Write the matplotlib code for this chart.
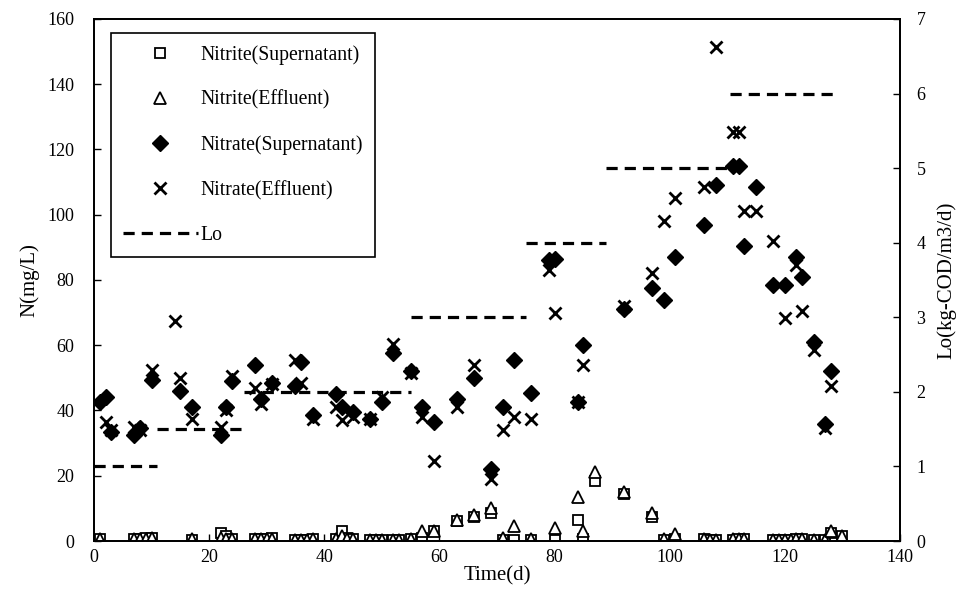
import numpy as np
import matplotlib
matplotlib.use("Agg")
import matplotlib.pyplot as plt

plt.rcParams['font.family'] = ['Liberation Serif', 'DejaVu Serif']

# Nitrate (Supernatant) - filled diamonds
ns_day = [1, 2, 3, 7, 8, 10, 15, 17, 22, 23, 24, 28, 29, 31, 35, 36, 38, 42, 43, 45,
          48, 50, 52, 55, 57, 59, 63, 66, 69, 71, 73, 76, 79, 80, 84, 85, 92, 97, 99,
          101, 106, 108, 111, 112, 113, 115, 118, 120, 122, 123, 125, 127, 128]
ns_val = [42.5, 44, 33.5, 32.5, 34.5, 49.5, 46, 41, 32.5, 41, 49, 54, 43.5, 48.5, 47.5,
          55, 38.5, 45, 41, 39.5, 37.5, 42.5, 57.5, 52, 41, 36.5, 43.5, 50, 22, 41,
          55.5, 45.5, 86, 86.5, 42.5, 60, 71, 77.5, 74, 87, 97, 109, 115, 115, 90.5,
          108.5, 78.5, 78.5, 87, 81, 61, 36, 52]

# Nitrate (Effluent) - crosses
ne_day = [2, 3, 7, 8, 10, 14, 15, 17, 22, 23, 24, 28, 29, 31, 35, 36, 38, 42, 43, 45,
          48, 50, 52, 55, 57, 59, 63, 66, 69, 71, 73, 76, 79, 80, 84, 85, 92, 97, 99,
          101, 106, 108, 111, 112, 113, 115, 118, 120, 122, 123, 125, 127, 128]
ne_val = [36.5, 34, 35, 34, 52.5, 67.5, 50, 37.5, 35, 40, 50.5, 47, 42, 48, 55.5, 48.5,
          37.5, 41, 37, 38, 37.5, 44, 60.5, 51.5, 38, 24.5, 41, 54, 19, 34, 38, 37.5,
          83, 70, 42.5, 54, 72, 82, 98, 105, 108.5, 151.5, 125.5, 125.5, 101, 101, 92,
          68.5, 84.5, 70.5, 58.5, 34.5, 47.5]

# Nitrite (Supernatant) - open squares
ps_day = [1, 7, 8, 9, 10, 17, 22, 23, 24, 28, 29, 30, 31, 35, 36, 37, 38, 42, 43, 44,
          45, 48, 49, 50, 52, 53, 55, 57, 59, 63, 66, 69, 71, 73, 76, 80, 84, 85, 87,
          92, 97, 99, 101, 106, 107, 108, 111, 112, 113, 118, 119, 120, 121, 122, 123,
          125, 127, 128, 130]
ps_val = [0.5, 0.5, 0.5, 1, 1, 0.3, 2.5, 1.5, 0.5, 0.5, 0.5, 0.5, 1, 0.3, 0.3, 0.3,
          0.5, 0.5, 3, 1, 0.5, 0.3, 0.3, 0.3, 0.3, 0.3, 0.5, 1, 3, 6, 7.5, 8.5, 0.3,
          0.3, 0.3, 0.3, 6.5, 0.5, 18.5, 14.5, 7.5, 0.3, 0.5, 0.5, 0.3, 0.3, 0.3, 0.5,
          0.5, 0.3, 0.3, 0.3, 0.3, 0.5, 0.5, 0.3, 0.3, 2.5, 1.5]

# Nitrite (Effluent) - open triangles
pe_day = [1, 7, 8, 9, 10, 17, 22, 23, 24, 28, 29, 30, 31, 35, 36, 37, 38, 42, 43, 44,
          45, 48, 49, 50, 52, 53, 55, 57, 59, 63, 66, 69, 71, 73, 76, 80, 84, 85, 87,
          92, 97, 99, 101, 106, 107, 108, 111, 112, 113, 118, 119, 120, 121, 122, 123,
          125, 127, 128, 130]
pe_val = [0.5, 0.5, 0.5, 0.5, 1, 0.5, 1, 0.5, 0.5, 0.5, 0.5, 0.5, 0.5, 0.3, 0.3, 0.3,
          0.5, 0.5, 1.5, 0.5, 0.5, 0.3, 0.3, 0.3, 0.3, 0.3, 0.5, 3, 3, 6.5, 8, 10, 1,
          4.5, 0.5, 4, 13.5, 3, 21, 15, 8.5, 0.5, 2, 0.5, 0.3, 0.3, 0.5, 0.5, 0.5, 0.3,
          0.3, 0.3, 0.3, 0.5, 0.5, 0.3, 0.3, 3, 1.5]

# Organic loading rate Lo (right axis)
lo_start = [0, 11, 26, 55, 75, 89, 110.5]
lo_end = [11, 26, 55, 75, 89, 110, 129]
lo_val = [1, 1.5, 2, 3, 4, 5, 6]

fig = plt.figure(figsize=(9.64, 6.12), dpi=100)
ax = fig.add_axes([0.0975, 0.116, 0.836, 0.853])
ax2 = ax.twinx()

sq, = ax.plot(ps_day, ps_val, 's', mfc='white', mec='black', ms=7.5, mew=1.3,
              linestyle='none', label='Nitrite(Supernatant)')
tr, = ax.plot(pe_day, pe_val, '^', mfc='white', mec='black', ms=8.5, mew=1.3,
              linestyle='none', label='Nitrite(Effluent)')
di, = ax.plot(ns_day, ns_val, 'D', color='black', ms=8.5, linestyle='none',
              label='Nitrate(Supernatant)')
xx, = ax.plot(ne_day, ne_val, 'x', color='black', ms=9, mew=2,
              linestyle='none', label='Nitrate(Effluent)')

for i in range(len(lo_val)):
    lo_line, = ax2.plot([lo_start[i], lo_end[i]], [lo_val[i], lo_val[i]], color='black',
                        lw=2.3, linestyle=(0, (3.5, 2.2)))
lo_line.set_label('Lo')

ax.set_xlim(0, 140)
ax.set_ylim(0, 160)
ax2.set_ylim(0, 7)
ax.set_xticks(np.arange(0, 141, 20))
ax.set_yticks(np.arange(0, 161, 20))
ax2.set_yticks(np.arange(0, 8, 1))

for a in (ax, ax2):
    a.tick_params(direction='in', labelsize=13, length=5, width=1)
    for s in a.spines.values():
        s.set_linewidth(1.3)
ax.tick_params(axis='y', pad=14)
ax.tick_params(axis='x', pad=6)
ax2.tick_params(axis='y', pad=12)

ax.set_xlabel('Time(d)', fontsize=15, labelpad=0)
ax.set_ylabel('N(mg/L)', fontsize=15, labelpad=6)
ax2.set_ylabel('Lo(kg-COD/m3/d)', fontsize=15, labelpad=8)

leg = ax2.legend(handles=[sq, tr, di, xx, lo_line], loc='upper left',
                 bbox_to_anchor=(0.021, 0.973), fontsize=14.2, frameon=True,
                 fancybox=False, edgecolor='black', framealpha=1,
                 handlelength=3.8, handletextpad=0.15, labelspacing=1.3,
                 borderpad=0.6, borderaxespad=0)
leg.get_frame().set_linewidth(1.2)

fig.savefig('out.png', dpi=100)
